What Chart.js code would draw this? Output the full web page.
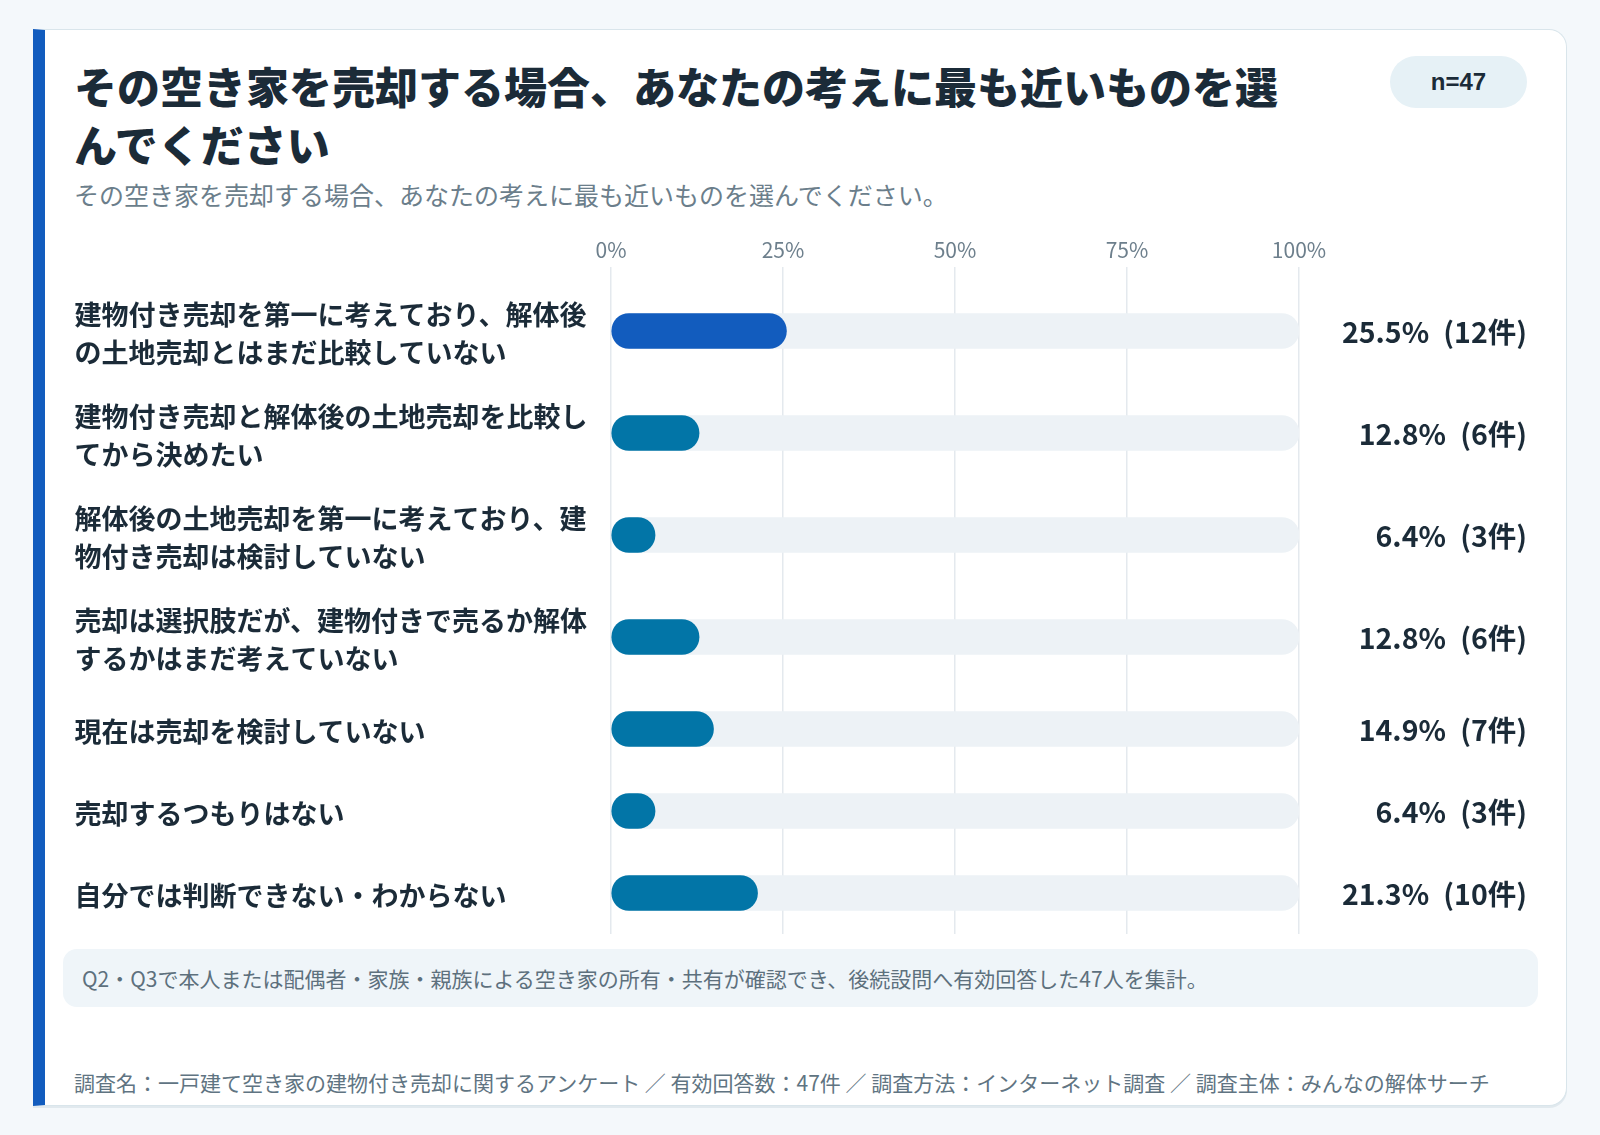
<!DOCTYPE html>
<html lang="ja">
<head>
<meta charset="utf-8">
<title>空き家の売却に関する考え</title>
<script src="https://cdn.jsdelivr.net/npm/chart.js@4.4.1/dist/chart.umd.min.js"></script>
<style>
  html, body { margin: 0; padding: 0; }
  body {
    width: 1600px; height: 1135px; position: relative; overflow: hidden;
    background: #f4f8fb;
    font-family: "Noto Sans CJK JP", "Noto Sans", sans-serif;
    color: #1b2b38;
  }
  .card {
    position: absolute; left: 33px; top: 29px; width: 1521px; height: 1075px;
    background: #fff;
    border: 1.5px solid #d9e5eb; border-left: 12px solid #125cbe;
    border-radius: 0 18px 18px 0;
    box-shadow: 0 2px 0 #e1e9ee;
  }
  .title {
    position: absolute; left: 74px; top: 56px; width: 1225px;
    font-size: 43px; line-height: 58px; font-weight: 800; margin: 0;
    color: #1b2b38;
  }
  .sub {
    position: absolute; left: 74px; top: 179px;
    font-size: 25px; line-height: 30px; color: #6b7e8b; margin: 0;
  }
  .pill {
    position: absolute; left: 1390px; top: 56px; width: 137px; height: 52px;
    border-radius: 26px; background: #e6f1f6;
    font-family: "Liberation Sans", Arial, sans-serif; font-weight: 700; font-size: 24px;
    line-height: 52px; text-align: center; color: #1b2b38;
  }
  .wrap { position: absolute; left: 45px; top: 215px; width: 1500px; height: 730px; }
  .note {
    position: absolute; left: 63px; top: 949px; width: 1456px; height: 58px;
    border-radius: 14px; background: #eff5f9;
    font-size: 21px; line-height: 58px; color: #5d707d; padding-left: 19px;
  }
  .foot {
    position: absolute; left: 74px; top: 1067px;
    font-size: 21px; line-height: 30px; color: #607482;
  }
</style>
</head>
<body>
<div class="card"></div>
<h1 class="title">その空き家を売却する場合、あなたの考えに最も近いものを選んでください</h1>
<p class="sub">その空き家を売却する場合、あなたの考えに最も近いものを選んでください。</p>
<div class="pill">n=47</div>
<div class="wrap"><canvas id="c" width="1500" height="730"></canvas></div>
<div class="note">Q2・Q3で本人または配偶者・家族・親族による空き家の所有・共有が確認でき、後続設問へ有効回答した47人を集計。</div>
<div class="foot">調査名：一戸建て空き家の建物付き売却に関するアンケート ／ 有効回答数：47件 ／ 調査方法：インターネット調査 ／ 調査主体：みんなの解体サーチ</div>

<script>
(() => {
  const FONT = '"Noto Sans CJK JP", "Noto Sans", sans-serif';

  // データ
  const categories = [
    '建物付き売却を第一に考えており、解体後の土地売却とはまだ比較していない',
    '建物付き売却と解体後の土地売却を比較してから決めたい',
    '解体後の土地売却を第一に考えており、建物付き売却は検討していない',
    '売却は選択肢だが、建物付きで売るか解体するかはまだ考えていない',
    '現在は売却を検討していない',
    '売却するつもりはない',
    '自分では判断できない・わからない'
  ];
  const percents = [25.5, 12.8, 6.4, 12.8, 14.9, 6.4, 21.3];
  const counts = [12, 6, 3, 6, 7, 3, 10];
  const xTicks = [0, 25, 50, 75, 100];

  // ラベル折り返し（幅で改行）
  const LABEL_PX = 27, LABEL_MAX = 520;
  const mctx = document.createElement('canvas').getContext('2d');
  mctx.font = `bold ${LABEL_PX}px ${FONT}`;
  function wrap(txt){
    const lines = []; let cur = '';
    for (const ch of txt) {
      if (mctx.measureText(cur + ch).width > LABEL_MAX) { lines.push(cur); cur = ch; }
      else cur += ch;
    }
    if (cur) lines.push(cur);
    return lines;
  }
  const labels = categories.map(wrap);

  // 行の高さ：2行ラベルは広め
  const TOP_GAP = 13;
  const rowH = labels.map(l => l.length > 1 ? 102 : 82);
  const centers = [];
  let acc = 0;
  rowH.forEach(h => { centers.push(acc + h / 2); acc += h; });
  const yMax = acc;

  const colors = percents.map((_, i) => i === 0 ? '#125cbe' : '#0275a7');

  const valueLabels = {
    id: 'valueLabels',
    afterDatasetsDraw(chart){
      const {ctx, scales: {y}} = chart;
      ctx.save();
      ctx.font = `bold 28.5px ${FONT}`;
      ctx.fillStyle = '#1b2b38';
      ctx.textAlign = 'right';
      ctx.textBaseline = 'middle';
      centers.forEach((c, i) => {
        ctx.fillText(`${percents[i].toFixed(1)}%\u2002(${counts[i]}件)`, 1482, y.getPixelForValue(c) + 1);
      });
      ctx.restore();
    }
  };

  Chart.defaults.font.family = FONT;

  new Chart(document.getElementById('c'), {
    type: 'bar',
    data: {
      datasets: [
        {
          label: '割合',
          data: percents.map((p, i) => ({x: p, y: centers[i]})),
          backgroundColor: colors,
          borderRadius: 18, borderSkipped: false,
          barThickness: 35, grouped: false, order: 0
        },
        {
          label: 'track',
          data: centers.map(c => ({x: 100, y: c})),
          backgroundColor: '#edf2f6',
          borderRadius: 18, borderSkipped: false,
          barThickness: 35, grouped: false, order: 1
        }
      ]
    },
    options: {
      indexAxis: 'y',
      responsive: false,
      animation: false,
      layout: { padding: { left: 29.5, right: 246, top: 0, bottom: 11 } },
      plugins: { legend: { display: false }, tooltip: { enabled: false } },
      scales: {
        x: {
          type: 'linear', position: 'top', min: 0, max: 100,
          afterBuildTicks: (s) => { s.ticks = xTicks.map(v => ({value: v})); },
          afterFit: (s) => { s.height = 52; },
          grid: { color: '#e4e9ee', lineWidth: 1.5, drawTicks: false },
          border: { display: false },
          ticks: {
            callback: (v) => v + '%',
            color: '#6d7f8c', padding: 4,
            font: { size: 21 }
          }
        },
        y: {
          type: 'linear', reverse: true, offset: false, min: -TOP_GAP, max: yMax,
          // ラベルは文字の見た目に合わせて少し下げる
          afterBuildTicks: (s) => { s.ticks = centers.map(v => ({value: v + 3})); },
          afterFit: (s) => { s.width = 536.5; s.paddingTop = 0; s.paddingBottom = 0; },
          grid: { display: false },
          border: { display: false },
          ticks: {
            callback: (v, i) => labels[i],
            crossAlign: 'far',
            color: '#1b2b38',
            font: { size: LABEL_PX, weight: 'bold', lineHeight: 1.4 }
          }
        }
      }
    },
    plugins: [valueLabels]
  });
})();
</script>
</body>
</html>
